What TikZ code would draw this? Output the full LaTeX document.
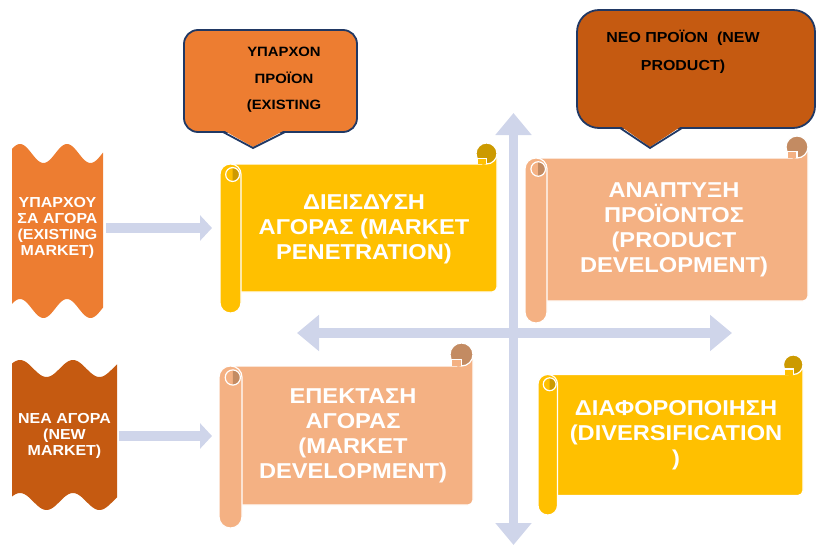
\documentclass[tikz,border=0pt]{standalone}
\usepackage{fontspec}
\setmainfont{Liberation Sans}[FakeStretch=1.1]
\newfontfamily\heavysans{Liberation Sans Bold}[FakeStretch=1.1]
\usetikzlibrary{arrows.meta}

\definecolor{lav}{HTML}{CFD5EA}
\definecolor{corange}{HTML}{ED7D31}
\definecolor{cdeep}{HTML}{C55A11}
\definecolor{cgold}{HTML}{FFC000}
\definecolor{cgolddark}{HTML}{CC9A00}
\definecolor{cpeach}{HTML}{F4B183}
\definecolor{cpeachdark}{HTML}{C38B62}
\definecolor{navy}{HTML}{203864}

% Horizontal scroll: #1 left, #2 top, #3 right, #4 bottom, #5 roll size, #6 paper, #7 shade
\newcommand{\scrollpaper}[7]{%
  \filldraw[fill=#6, draw=white, line width=1.2pt, rounded corners=5pt]
    ({#1+#5/2},{#2+#5}) -- ({#3-#5/2},{#2+#5}) -- ({#3-#5/2},{#2+#5/2})
    -- (#3,{#2+#5/2}) -- (#3,{#4-#5}) -- ({#1+#5/2},{#4-#5}) -- cycle;
  % curl at the top right
  \filldraw[fill=#7, draw=white, line width=1.2pt]
    ({#3-#5/2},{#2+#5/2}) circle[radius=#5/2];
  \filldraw[fill=#6, draw=white, line width=1.2pt]
    ({#3-#5*0.95},{#2+#5}) -- ({#3-#5*0.95},{#2+#5*0.72})
    -- ({#3-#5*0.5},{#2+#5*0.72}) -- ({#3-#5*0.5},{#2+#5});
  % roll on the left
  \filldraw[fill=#6, draw=white, line width=1.2pt, rounded corners=#5*0.49*1pt]
    (#1,{#2+#5}) rectangle ({#1+#5},#4);
  \begin{scope}
    \clip ({#1+#5*0.6},{#2+#5*1.1}) rectangle ({#1+#5},{#2+#5*1.9});
    \fill[#7] ({#1+#5*0.6},{#2+#5*1.5}) circle[radius=#5*0.33];
  \end{scope}
  \draw[white, line width=1.2pt] ({#1+#5*0.6},{#2+#5*1.5}) circle[radius=#5*0.33];
}

% Banner with wavy top and bottom: #1 left, #2 right, #3 top midline, #4 height,
% #5 amplitude, #6 period, #7 colour
\newcommand{\wavebanner}[7]{%
  \fill[#7] plot[domain=#1:#2, samples=60, smooth] (\x,{#3-#5*cos((\x-#1-8)/#6*360)})
    -- plot[domain=#2:#1, samples=60, smooth] (\x,{#3+#4-#5*cos((\x-#1-8)/#6*360)})
    -- cycle;
}

\begin{document}
\begin{tikzpicture}[x=1pt, y=-1pt,
  axis/.style={draw=lav, line width=9.5pt,
    {Triangle[length=22pt,width=35pt]}-{Triangle[length=22pt,width=35pt]}},
  feed/.style={draw=lav, line width=10pt, -{Triangle[length=12pt,width=25pt]},
    shorten <=3pt, shorten >=8pt},
  callout/.style={draw=navy, line width=1.8pt},
  scrolltext/.style={text=white, align=center, inner sep=0pt,
    font=\heavysans\fontsize{21.5}{25}\selectfont},
  bannertext/.style={text=white, align=center, inner sep=0pt,
    font=\heavysans\fontsize{14.5}{16}\selectfont},
  calltext/.style={text=black, align=center, inner sep=0pt,
    font=\heavysans\fontsize{13.5}{26.5}\selectfont}
]
\useasboundingbox (0,0) rectangle (817,546);

% quadrant axes
\coordinate (axW) at (297,333);
\coordinate (axE) at (732,333);
\coordinate (axN) at (513.5,113);
\coordinate (axS) at (513.5,545);
\draw[axis] (axW) -- (axE);
\draw[axis] (axN) -- (axS);

% scrolls
\scrollpaper{220}{143}{497}{313}{21}{cgold}{cgolddark}
\scrollpaper{525}{136}{808}{323}{22}{cpeach}{cpeachdark}
\scrollpaper{219}{343}{473}{528}{23}{cpeach}{cpeachdark}
\scrollpaper{538}{355}{803}{515}{19.5}{cgold}{cgolddark}
\coordinate (penroll) at (220,228);
\coordinate (mdevroll) at (219,436);

\node[scrolltext] (pen) at (364,229) {ΔΙΕΙΣΔΥΣΗ\\ΑΓΟΡΑΣ (MARKET\\PENETRATION)};
\node[scrolltext] (pdev) at (674,229.5) {ΑΝΑΠΤΥΞΗ\\ΠΡΟΪΟΝΤΟΣ\\(PRODUCT\\DEVELOPMENT)};
\node[scrolltext] (mdev) at (353,435.5) {ΕΠΕΚΤΑΣΗ\\ΑΓΟΡΑΣ\\(MARKET\\DEVELOPMENT)};
\node[scrolltext] (div) at (676,435) {ΔΙΑΦΟΡΟΠΟΙΗΣΗ\\(DIVERSIFICATION\\)};

% market banners
\wavebanner{12}{103}{153.5}{155}{9.5}{47}{corange}
\wavebanner{12}{117}{368.5}{133}{8.5}{53}{cdeep}
\node[bannertext, minimum width=91pt, minimum height=150pt] (bex) at (57.5,228)
  {ΥΠΑΡΧΟΥ\\ΣΑ ΑΓΟΡΑ\\(EXISTING\\MARKET)};
\node[bannertext, minimum width=105pt, minimum height=130pt] (bnew) at (64.5,436)
  {ΝΕΑ ΑΓΟΡΑ\\(NEW\\MARKET)};

\draw[feed] (bex.east) -- (bex.east -| penroll);
\draw[feed, shorten <=2pt, shorten >=7pt] (bnew.east) -- (bnew.east -| mdevroll);

% product callouts
\filldraw[callout, fill=corange, rounded corners=14pt] (184,30) rectangle (357,132);
\fill[corange] (224,130.5) -- (253,147) -- (284,130.5) -- cycle;
\draw[callout] (223,132) -- (253,148) -- (285,132);
\node[calltext] (exprod) at (284,80) {ΥΠΑΡΧΟΝ\\ΠΡΟΪΟΝ\\(EXISTING};

\filldraw[callout, fill=cdeep, rounded corners=22pt] (577,10) rectangle (815,128);
\fill[cdeep] (621,126.5) -- (650,147) -- (681,126.5) -- cycle;
\draw[callout] (620,128) -- (650,148) -- (682,128);
\node[calltext, font=\heavysans\fontsize{14.5}{28}\selectfont] (newprod) at (683,52)
  {ΝΕΟ ΠΡΟΪΟΝ\ \ (NEW\\PRODUCT)};
\end{tikzpicture}
\end{document}
